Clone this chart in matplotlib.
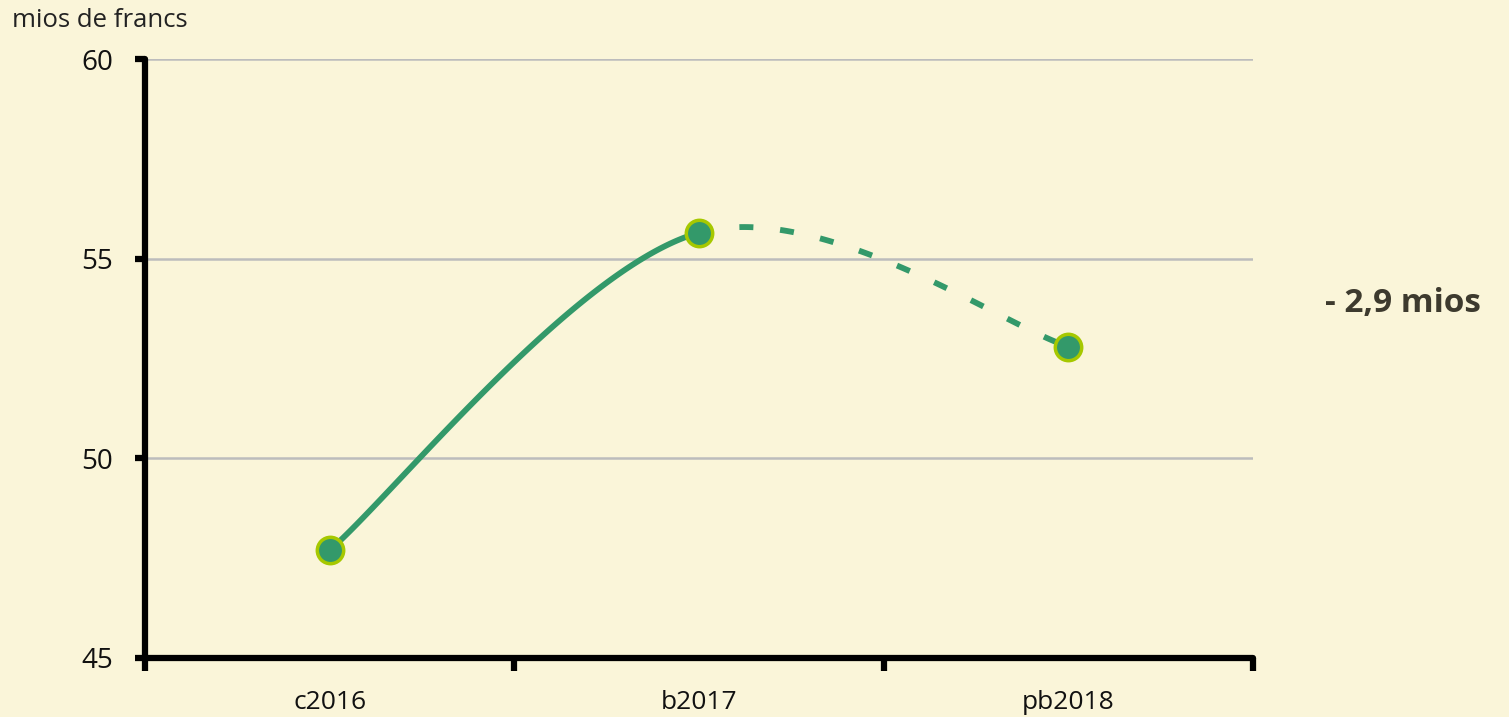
import numpy as np
import matplotlib
matplotlib.use("Agg")
import matplotlib.pyplot as plt

# data
categories = ["c2016", "b2017", "pb2018"]
values = [47.7, 55.65, 52.8]
y_ticks = [45, 50, 55, 60]
note = "- 2,9 mios"
unit_label = "mios de francs"

bg = "#faf5d9"
green = "#33996a"
edge = "#a6c800"

plt.rcParams['font.family'] = ['Open Sans', 'DejaVu Sans']

fig = plt.figure(figsize=(15.09, 7.17), dpi=100, facecolor=bg)
ax = fig.add_axes([0.0961, 0.0823, 0.7343, 0.8354], facecolor=bg)

x = np.arange(len(categories)) + 0.5
y = np.array(values)
pts = np.column_stack([x, y])


# cardinal spline (tension 0) through the points, one bezier per segment
def seg(i, num=120):
    p1, p2 = pts[i], pts[i + 1]
    p0 = pts[i - 1] if i > 0 else p1
    p3 = pts[i + 2] if i + 2 < len(pts) else p2
    c1 = p1 + (p2 - p0) / 6
    c2 = p2 - (p3 - p1) / 6
    t = np.linspace(0, 1, num)[:, None]
    b = (1 - t)**3 * p1 + 3 * (1 - t)**2 * t * c1 + 3 * (1 - t) * t**2 * c2 + t**3 * p2
    return b[:, 0], b[:, 1]


t0, s0 = seg(0)
t1, s1 = seg(1)
ax.plot(t0, s0, color=green, lw=4.2, solid_capstyle='butt', zorder=3)
ax.plot(t1, s1, color=green, lw=4.2, dashes=(2.4, 4.6), dash_capstyle='butt', zorder=3)
ax.plot(x, y, 'o', ms=19, mfc=green, mec=edge, mew=2.5, zorder=4)

ax.set_xlim(0, 3)
ax.set_ylim(45, 60)
ax.set_yticks(y_ticks)
ax.set_yticklabels([str(v) for v in y_ticks], fontsize=20, color='#111111')
ax.set_xticks([0, 1, 2, 3])
ax.set_xticklabels([])
ax.set_xticks(x, minor=True)
ax.set_xticklabels(categories, minor=True, fontsize=19, color='#111111')
ax.tick_params(axis='x', which='minor', length=0, pad=23)
ax.tick_params(axis='x', which='major', length=9, width=4.5, color='black')
ax.tick_params(axis='y', length=7, width=4.5, color='black', pad=16)

for v in y_ticks[1:]:
    ax.axhline(v, color='#bcbcbc', lw=1.8, zorder=1)

for s in ['top', 'right']:
    ax.spines[s].set_visible(False)
for s in ['left', 'bottom']:
    ax.spines[s].set_linewidth(4.5)
    ax.spines[s].set_capstyle('round')

fig.text(0.008, 0.972, unit_label, fontsize=18.5, color='#222222', va='center', ha='left')
fig.text(0.878, 0.577, note, fontsize=24, fontweight='bold', color='#3d3a2e', va='center', ha='left')

fig.savefig("out.png", dpi=100, facecolor=bg)
